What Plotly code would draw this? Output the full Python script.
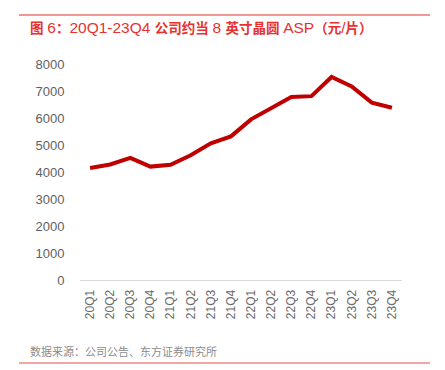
import plotly.graph_objects as go

quarters = ["20Q1","20Q2","20Q3","20Q4","21Q1","21Q2","21Q3","21Q4",
            "22Q1","22Q2","22Q3","22Q4","23Q1","23Q2","23Q3","23Q4"]
asp = [4150, 4280, 4520, 4200, 4270, 4620, 5060, 5320,
       5950, 6360, 6780, 6810, 7520, 7170, 6570, 6380]
y_ticks = [0, 1000, 2000, 3000, 4000, 5000, 6000, 7000, 8000]

title_text = "图 6：20Q1-23Q4 公司约当 8 英寸晶圆 ASP（元/片）"
source_text = "数据来源：公司公告、东方证券研究所"

font_family = "Liberation Sans, Noto Sans CJK SC, sans-serif"


def styled_title(t):
    # CJK segments in bold, slightly smaller; latin in regular
    out, buf, cjk = [], "", None
    def flush(b, c):
        if not b:
            return
        if c:
            out.append('<span style="font-size:13.5px"><b>' + b + '</b></span>')
        else:
            out.append(b)
    for ch in t:
        is_cjk = ord(ch) > 0x2E80
        if cjk is None or is_cjk == cjk or ch == " ":
            buf += ch
            if ch != " " and cjk is None:
                cjk = is_cjk
        else:
            flush(buf, cjk)
            buf, cjk = ch, is_cjk
    flush(buf, cjk)
    return "".join(out)


# page body has an 8px default margin; compensate
OFF = 8
W, H = 445 - OFF, 370 - OFF
L, R, T, B = 80 - OFF, 43, 64 - OFF, 90
pw, ph = W - L - R, H - T - B

def px(x):
    return (x - OFF - L) / pw

def py(y):
    return (H - B - (y - OFF)) / ph

fig = go.Figure()
fig.add_trace(go.Scatter(
    x=quarters, y=asp, mode="lines",
    line=dict(color="#C00000", width=4),
    hoverinfo="skip", showlegend=False,
))

fig.update_layout(
    width=W, height=H,
    margin=dict(l=L, r=R, t=T, b=B, autoexpand=False),
    paper_bgcolor="white", plot_bgcolor="white",
    font=dict(family=font_family, color="#595959"),
    xaxis=dict(
        type="category", tickangle=-90, range=[-0.5, 15.5], automargin=False,
        tickfont=dict(size=12, color="#6b6b6b"),
        showgrid=False, zeroline=False,
        showline=True, linecolor="#D9D9D9", linewidth=1,
        ticks="outside", ticklen=4, tickcolor="white",
    ),
    yaxis=dict(
        range=[0, 8000], tickvals=y_ticks, automargin=False,
        tickfont=dict(size=13, color="#5f5f5f"),
        showgrid=False, zeroline=False, showline=False,
        ticks="outside", ticklen=12, tickcolor="white",
    ),
    shapes=[
        dict(type="line", xref="paper", yref="paper", x0=px(19), x1=px(430),
             y0=py(15), y1=py(15), line=dict(color="#E8312F", width=1)),
        dict(type="line", xref="paper", yref="paper", x0=px(19), x1=px(430),
             y0=py(363), y1=py(363), line=dict(color="#F4A6A4", width=2)),
    ],
    annotations=[
        dict(text=styled_title(title_text), xref="paper", yref="paper", x=px(28), y=py(27),
             xanchor="left", yanchor="middle", showarrow=False,
             font=dict(size=15.5, color="#E8312F", family=font_family)),
        dict(text=source_text, xref="paper", yref="paper", x=px(28), y=py(351),
             xanchor="left", yanchor="middle", showarrow=False,
             font=dict(size=11, color="#8C8C8C", family=font_family)),
    ],
)

fig.write_html("out.html")
